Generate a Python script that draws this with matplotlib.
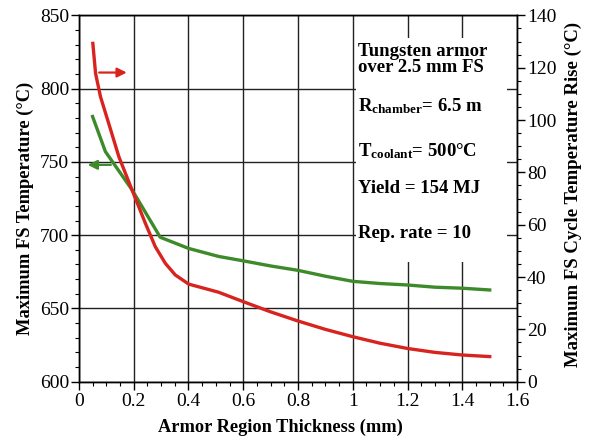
import matplotlib
matplotlib.use("Agg")
import matplotlib.pyplot as plt
from matplotlib.patches import Rectangle
from matplotlib.ticker import MultipleLocator, FuncFormatter

plt.rcParams['font.family'] = ['Liberation Serif', 'DejaVu Serif']
plt.rcParams['mathtext.fontset'] = 'custom'
plt.rcParams['mathtext.rm'] = 'Liberation Serif:bold'
plt.rcParams['mathtext.it'] = 'Liberation Serif:bold'
plt.rcParams['mathtext.bf'] = 'Liberation Serif:bold'

# Green: maximum FS temperature (left axis)
green_x = [0.05, 0.097, 0.194, 0.297, 0.40, 0.51, 0.60, 0.70, 0.80, 0.90, 1.00, 1.10, 1.20, 1.30, 1.40, 1.50]
green_y = [781, 757, 731, 698.6, 691, 685.5, 682.5, 679, 676, 672, 668.5, 667, 666, 664.5, 663.8, 662.6]

# Red: maximum FS cycle temperature rise (right axis)
red_x = [0.051, 0.061, 0.079, 0.109, 0.146, 0.194, 0.243, 0.279, 0.316, 0.352, 0.401, 0.51, 0.60, 0.70, 0.80, 0.90, 1.00, 1.10, 1.20, 1.30, 1.40, 1.50]
red_y = [129.3, 117.8, 108.9, 98.7, 86, 73.3, 60.5, 51.6, 45.2, 40.8, 37.3, 34.2, 30.6, 26.7, 23.2, 20.0, 17.2, 14.7, 12.7, 11.2, 10.2, 9.6]

x_ticks = [0, 0.2, 0.4, 0.6, 0.8, 1.0, 1.2, 1.4, 1.6]
left_ticks = [600, 650, 700, 750, 800, 850]
right_ticks = [0, 20, 40, 60, 80, 100, 120, 140]

info_lines = ["Tungsten armor\nover 2.5 mm FS",
              r"R$_{\mathdefault{chamber}}$= 6.5 m",
              r"T$_{\mathdefault{coolant}}$= 500°C",
              "Yield = 154 MJ",
              "Rep. rate = 10"]

W, H = 593, 440
fig = plt.figure(figsize=(W / 100, H / 100), dpi=100)
ax = fig.add_axes([0.133, 0.1325, 0.739, 0.8325])
ax2 = ax.twinx()

ax.set_xlim(0, 1.6)
ax.set_ylim(600, 850)
ax2.set_ylim(0, 140)
ax.set_xticks(x_ticks)
ax.set_yticks(left_ticks)
ax2.set_yticks(right_ticks)
ax.xaxis.set_minor_locator(MultipleLocator(0.05))
ax.yaxis.set_minor_locator(MultipleLocator(10))
ax2.yaxis.set_minor_locator(MultipleLocator(5))
ax.xaxis.set_major_formatter(FuncFormatter(lambda v, p: f"{v:g}"))

ax.set_axisbelow(True)
ax.grid(True, which='major', color='#222222', linewidth=1.0)

ax.add_patch(Rectangle((0.632, 0.327), 0.345, 0.611, transform=ax.transAxes,
                       facecolor='white', edgecolor='none', zorder=1))

ax.plot(green_x, green_y, color='#3d8a2a', linewidth=2.4, zorder=3)
ax2.plot(red_x, red_y, color='#d8231f', linewidth=2.4, zorder=3)

# direction arrows
ax.annotate("", xy=(0.185, 811), xytext=(0.064, 811),
            arrowprops=dict(arrowstyle='-|>', color='#d8231f', lw=1.6, mutation_scale=14))
ax.annotate("", xy=(0.022, 748), xytext=(0.127, 748),
            arrowprops=dict(arrowstyle='-|>', color='#3d8a2a', lw=1.6, mutation_scale=14))

for a in (ax, ax2):
    for s in a.spines.values():
        s.set_linewidth(1.0)
ax.tick_params(axis='both', which='major', direction='out', length=6, width=1, labelsize=14)
ax.tick_params(axis='both', which='minor', direction='out', length=3, width=0.8)
ax2.tick_params(axis='y', which='major', direction='out', length=6, width=1, labelsize=14, pad=1)
ax2.tick_params(axis='y', which='minor', direction='out', length=3, width=0.8)
ax.tick_params(axis='y', pad=1)
ax.tick_params(axis='x', pad=2)

# axis titles placed to match the reference
fig.text(280 / W, 1 - 427 / H, "Armor Region Thickness (mm)", fontsize=13.2,
         fontweight='bold', ha='center', va='center')
fig.text(25 / W, 1 - 208 / H, "Maximum FS Temperature (°C)", fontsize=13.3,
         fontweight='bold', ha='center', va='center', rotation=90)
fig.text(573 / W, 1 - 194 / H, "Maximum FS Cycle Temperature Rise (°C)", fontsize=13.5,
         fontweight='bold', ha='center', va='center', rotation=90)

ys = [0.88, 0.752, 0.63, 0.527, 0.405]
for t, y in zip(info_lines, ys):
    ax.text(0.638, y, t, transform=ax.transAxes, fontsize=13.5, fontweight='bold',
            va='center', ha='left', linespacing=0.95, zorder=4)

fig.savefig("out.png", dpi=100)
